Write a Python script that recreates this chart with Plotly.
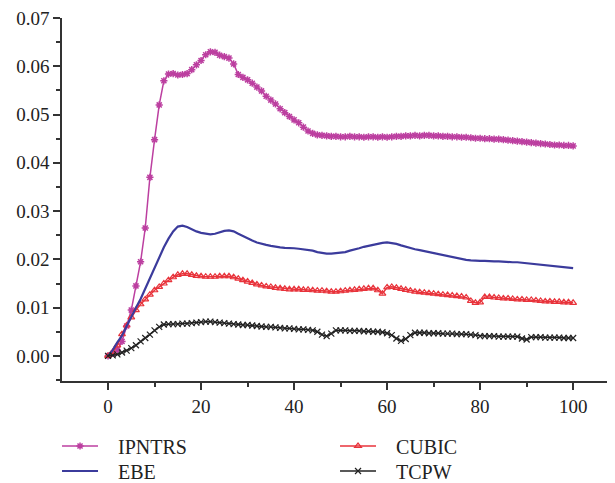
import plotly.graph_objects as go

x = list(range(0, 101))

ipntrs = [0.0000, 0.0005, 0.0012, 0.0030, 0.0062, 0.0095, 0.0145, 0.0195, 0.0265, 0.0370,
          0.0448, 0.0520, 0.0570, 0.0584, 0.0585, 0.0582, 0.0583, 0.0585, 0.0593, 0.0603,
          0.0612, 0.0624, 0.0630, 0.0629, 0.0623, 0.0620, 0.0617, 0.0605, 0.0583, 0.0577,
          0.0572, 0.0565, 0.0557, 0.0549, 0.0538, 0.0530, 0.0522, 0.0512, 0.0504, 0.0496,
          0.0489, 0.0483, 0.0474, 0.0466, 0.0461, 0.0458, 0.0457, 0.0456, 0.0455, 0.0455,
          0.0454, 0.0454, 0.0455, 0.0454, 0.0454, 0.0453, 0.0454, 0.0454, 0.0453, 0.0454,
          0.0453, 0.0454, 0.0455, 0.0455, 0.0456, 0.0456, 0.0457, 0.0456, 0.0457, 0.0457,
          0.0456, 0.0456, 0.0455, 0.0455, 0.0454, 0.0454, 0.0453, 0.0453, 0.0452, 0.0451,
          0.0451, 0.0450, 0.0450, 0.0449, 0.0449, 0.0448, 0.0447, 0.0446, 0.0445, 0.0444,
          0.0443, 0.0442, 0.0441, 0.0440, 0.0439, 0.0438, 0.0437, 0.0437, 0.0436, 0.0436,
          0.0435]

ebe = [0.0000, 0.0012, 0.0028, 0.0042, 0.0062, 0.0082, 0.0100, 0.0118, 0.0140, 0.0162,
       0.0182, 0.0203, 0.0225, 0.0243, 0.0258, 0.0268, 0.0270, 0.0267, 0.0262, 0.0258,
       0.0255, 0.0253, 0.0252, 0.0253, 0.0256, 0.0259, 0.0260, 0.0258, 0.0253, 0.0248,
       0.0243, 0.0239, 0.0235, 0.0232, 0.0230, 0.0228, 0.0226, 0.0225, 0.0224, 0.0224,
       0.0223, 0.0222, 0.0221, 0.0220, 0.0218, 0.0215, 0.0213, 0.0212, 0.0212, 0.0213,
       0.0213, 0.0215, 0.0218, 0.0220, 0.0223, 0.0226, 0.0228, 0.0231, 0.0233, 0.0234,
       0.0235, 0.0234, 0.0232, 0.0229, 0.0226, 0.0224, 0.0221, 0.0219, 0.0217, 0.0214,
       0.0212, 0.0211, 0.0209, 0.0207, 0.0205, 0.0203, 0.0201, 0.0199, 0.0198, 0.0197,
       0.0197, 0.0197, 0.0196, 0.0196, 0.0196, 0.0195, 0.0195, 0.0194, 0.0194, 0.0193,
       0.0192, 0.0191, 0.0190, 0.0189, 0.0188, 0.0187, 0.0186, 0.0185, 0.0184, 0.0183,
       0.0182]

cubic = [0.0000, 0.0008, 0.0022, 0.0045, 0.0063, 0.0080, 0.0095, 0.0107, 0.0117, 0.0127,
         0.0136, 0.0143, 0.0150, 0.0157, 0.0163, 0.0168, 0.0170, 0.0170, 0.0168, 0.0166,
         0.0165, 0.0164, 0.0164, 0.0164, 0.0165, 0.0165, 0.0165, 0.0163, 0.0160, 0.0157,
         0.0154, 0.0151, 0.0148, 0.0146, 0.0144, 0.0143, 0.0141, 0.0140, 0.0139, 0.0138,
         0.0138, 0.0138, 0.0137, 0.0137, 0.0136, 0.0135, 0.0135, 0.0134, 0.0133, 0.0133,
         0.0134, 0.0135, 0.0136, 0.0137, 0.0138, 0.0139, 0.0140, 0.0140, 0.0136, 0.0129,
         0.0142, 0.0143, 0.0141, 0.0139, 0.0137, 0.0135, 0.0133, 0.0132, 0.0131, 0.0130,
         0.0129, 0.0128, 0.0127, 0.0126, 0.0125, 0.0124, 0.0123, 0.0121, 0.0114, 0.0110,
         0.0111, 0.0122, 0.0122, 0.0121, 0.0120, 0.0119, 0.0119, 0.0118, 0.0117, 0.0117,
         0.0116, 0.0116, 0.0115, 0.0114, 0.0113, 0.0113, 0.0112, 0.0112, 0.0111, 0.0111,
         0.0110]

tcpw = [0.0000, 0.0001, 0.0003, 0.0007, 0.0011, 0.0016, 0.0022, 0.0030, 0.0037, 0.0044,
        0.0053, 0.0060, 0.0065, 0.0066, 0.0066, 0.0066, 0.0067, 0.0067, 0.0068, 0.0069,
        0.0070, 0.0071, 0.0071, 0.0070, 0.0069, 0.0068, 0.0067, 0.0066, 0.0065, 0.0064,
        0.0064, 0.0063, 0.0062, 0.0061, 0.0060, 0.0060, 0.0059, 0.0058, 0.0057, 0.0057,
        0.0056, 0.0055, 0.0055, 0.0054, 0.0053, 0.0050, 0.0044, 0.0041, 0.0046, 0.0053,
        0.0053, 0.0053, 0.0052, 0.0052, 0.0052, 0.0051, 0.0051, 0.0050, 0.0050, 0.0049,
        0.0047, 0.0043, 0.0036, 0.0031, 0.0035, 0.0043, 0.0048, 0.0048, 0.0048, 0.0047,
        0.0047, 0.0047, 0.0046, 0.0046, 0.0046, 0.0045, 0.0045, 0.0045, 0.0044, 0.0043,
        0.0041, 0.0041, 0.0041, 0.0041, 0.0040, 0.0040, 0.0040, 0.0040, 0.0040, 0.0036,
        0.0034, 0.0039, 0.0039, 0.0039, 0.0038, 0.0038, 0.0038, 0.0038, 0.0037, 0.0037,
        0.0037]

FONT = "Liberation Serif, DejaVu Serif, serif"
GAP = "\u00a0\u00a0\u00a0"

fig = go.Figure()
fig.add_trace(go.Scatter(
    x=x, y=ipntrs, name=GAP + "IPNTRS", mode="lines+markers", legend="legend",
    line=dict(color="#BC3FA0", width=1.5),
    marker=dict(symbol="asterisk-open", size=6, color="#BC3FA0",
                line=dict(color="#BC3FA0", width=1.5))))
fig.add_trace(go.Scatter(
    x=x, y=cubic, name=GAP + "CUBIC", mode="lines+markers", legend="legend",
    line=dict(color="#E8333B", width=1.5),
    marker=dict(symbol="triangle-up-open", size=6, color="#E8333B",
                line=dict(color="#E8333B", width=1.2))))
fig.add_trace(go.Scatter(
    x=x, y=ebe, name=GAP + "EBE", mode="lines", legend="legend2",
    line=dict(color="#3B3B9C", width=2.2)))
fig.add_trace(go.Scatter(
    x=x, y=tcpw, name=GAP + "TCPW", mode="lines+markers", legend="legend2",
    line=dict(color="#222222", width=1.5),
    marker=dict(symbol="x-thin-open", size=6, color="#222222",
                line=dict(color="#222222", width=1.2))))

axis_common = dict(
    showline=True, linecolor="#333333", linewidth=1.5,
    ticks="outside", ticklen=7, tickwidth=1.5, tickcolor="#333333",
    showgrid=False, zeroline=False, mirror=False,
    ticklabeloverflow="allow",
    tickfont=dict(family=FONT, size=19, color="#222222"),
)

fig.update_xaxes(range=[-9.9, 109], tickmode="linear", tick0=0, dtick=20,
                 minor=dict(ticks="outside", ticklen=4, tickwidth=1.5,
                            tickcolor="#333333", dtick=10, tick0=0),
                 **axis_common)
fig.update_yaxes(range=[-0.0052, 0.07001], tickmode="linear", tick0=0, dtick=0.01,
                 tickformat=".2f",
                 minor=dict(ticks="outside", ticklen=4, tickwidth=1.5,
                            tickcolor="#333333", dtick=0.005, tick0=0),
                 **axis_common)

legend_common = dict(orientation="h", xanchor="left", yanchor="middle",
                     x=-0.009, entrywidth=227, itemwidth=36,
                     font=dict(family=FONT, size=20, color="#222222"),
                     bgcolor="rgba(0,0,0,0)")

fig.update_layout(
    width=607, height=490,
    margin=dict(l=54, r=0, t=10, b=117),
    plot_bgcolor="white", paper_bgcolor="white",
    font=dict(family=FONT, size=19, color="#222222"),
    showlegend=True,
    legend=dict(y=-0.1791, **legend_common),
    legend2=dict(y=-0.2479, **legend_common),
)

fig.write_html("out.html")
